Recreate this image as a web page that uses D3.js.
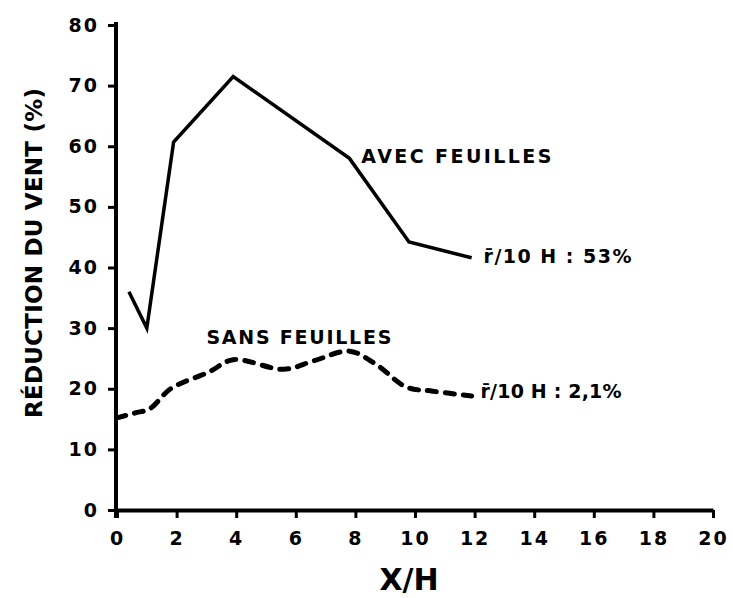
<!DOCTYPE html>
<html>
<head>
<style>
    body { margin: 0; background: #fff; }
    svg { font-family: "DejaVu Sans", sans-serif; }
</style>
</head>
<body>
<svg id="chart" width="733" height="598"></svg>
<script src="https://d3js.org/d3.v7.min.js"></script>
<script>
    // data
    let xTicks = [0, 2, 4, 6, 8, 10, 12, 14, 16, 18, 20];
    let yTicks = [0, 10, 20, 30, 40, 50, 60, 70, 80];

    let avecX = [0.4, 1.0, 1.9, 3.9, 7.8, 9.8, 11.9];
    let avecY = [36, 30, 60.7, 71.5, 58, 44.2, 41.6];

    let sansX = [0, 0.6, 1.1, 1.8, 3.1, 3.9, 5.6, 6.6, 7.8, 8.7, 9.7, 10.6, 11.9];
    let sansY = [15.2, 16, 16.7, 20, 22.8, 24.8, 23.2, 24.6, 26.2, 24, 20.3, 19.6, 18.8];

    let labels = [
        { text: "AVEC  FEUILLES", x: 8.2, y: 57.3, len: 190 },
        { text: "SANS  FEUILLES", x: 3.0, y: 27.3, len: 185 },
        { text: "r\u0304/10 H : 53%", x: 12.3, y: 40.7, len: 148 },
        { text: "r\u0304/10 H : 2,1%", x: 12.2, y: 18.5, len: 141 }
    ];

    let svg = d3.select("#chart");

    let x = d3.scaleLinear().domain([0, 20]).range([117, 713]);
    let y = d3.scaleLinear().domain([0, 80]).range([510, 25]);

    // axes
    let xAxis = d3.axisBottom(x).tickValues(xTicks).tickSize(8).tickPadding(14).tickSizeOuter(0);
    let yAxis = d3.axisLeft(y).tickValues(yTicks).tickSize(8).tickPadding(9).tickSizeOuter(0);

    let gx = svg.append("g").attr("transform", "translate(0, 510)").call(xAxis);
    let gy = svg.append("g").attr("transform", "translate(116, 0)").call(yAxis);

    for (let g of [gx, gy]) {
        g.select(".domain").attr("stroke", "#000").attr("stroke-width", 4);
        g.selectAll(".tick line").attr("stroke", "#000").attr("stroke-width", 3);
        g.selectAll(".tick text")
            .attr("fill", "#000")
            .style("font-size", "19px")
            .style("font-weight", "bold")
            .style("letter-spacing", "2px")
            .style("font-family", "'DejaVu Sans', sans-serif");
    }
    // extend the y axis a little past the top tick
    gy.select(".domain").attr("d", "M0," + (y(0) + 8) + "V" + (y(80) - 3));

    // axis titles
    svg.append("text")
        .attr("transform", "translate(42, 253) rotate(-90)")
        .attr("text-anchor", "middle")
        .attr("textLength", 330)
        .attr("lengthAdjust", "spacing")
        .style("font-size", "23px")
        .style("font-weight", "bold")
        .text("RÉDUCTION DU VENT (%)");

    svg.append("text")
        .attr("x", 409)
        .attr("y", 590)
        .attr("text-anchor", "middle")
        .style("font-size", "30px")
        .style("font-weight", "bold")
        .text("X/H");

    // lines
    let avec = avecX.map((d, i) => [d, avecY[i]]);
    let sans = sansX.map((d, i) => [d, sansY[i]]);

    let straight = d3.line().x((d) => x(d[0])).y((d) => y(d[1]));
    let smooth = d3.line().x((d) => x(d[0])).y((d) => y(d[1])).curve(d3.curveCatmullRom);

    svg.append("path")
        .attr("d", straight(avec))
        .attr("fill", "none")
        .attr("stroke", "#000")
        .attr("stroke-width", 3.5)
        .attr("stroke-linejoin", "miter");

    svg.append("path")
        .attr("d", smooth(sans))
        .attr("fill", "none")
        .attr("stroke", "#000")
        .attr("stroke-width", 5)
        .attr("stroke-linecap", "round")
        .attr("stroke-dasharray", "9,9");

    // annotations
    svg.selectAll(".note").data(labels)
        .enter()
        .append("text")
        .attr("class", "note")
        .attr("x", (d) => x(d.x))
        .attr("y", (d) => y(d.y))
        .attr("textLength", (d) => d.len)
        .attr("lengthAdjust", "spacing")
        .style("font-size", "19px")
        .style("font-weight", "bold")
        .text((d) => d.text);
</script>
</body>
</html>
